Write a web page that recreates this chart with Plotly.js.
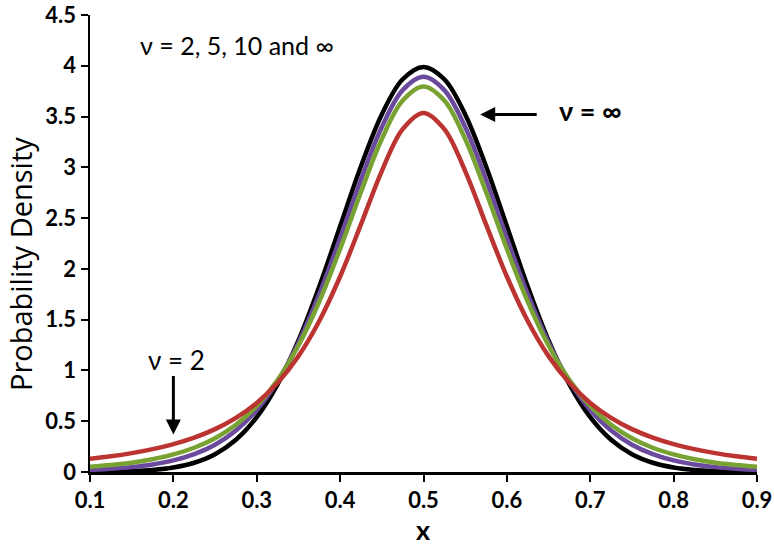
<!DOCTYPE html>
<html>
<head>
<meta charset="utf-8">
<script src="https://cdn.plot.ly/plotly-3.0.1.min.js"></script>
<style>
  html, body { margin: 0; padding: 0; background: #fff; }
  #chart { width: 774px; height: 547px; }
</style>
</head>
<body>
<div id="chart"></div>
<script>
// values, x from 0.1 to 0.9
const xValues = [0.1, 0.125, 0.15, 0.175, 0.2, 0.225, 0.25, 0.275, 0.3, 0.325, 0.35, 0.375, 0.4, 0.425, 0.45, 0.475,
    0.5, 0.525, 0.55, 0.575, 0.6, 0.625, 0.65, 0.675, 0.7, 0.725, 0.75, 0.775, 0.8, 0.825, 0.85, 0.875, 0.9];

const nuInf = [0.001, 0.004, 0.009, 0.020, 0.044, 0.091, 0.175, 0.317, 0.540, 0.863, 1.295, 1.826, 2.420, 3.011, 3.521, 3.867,
    3.989, 3.867, 3.521, 3.011, 2.420, 1.826, 1.295, 0.863, 0.540, 0.317, 0.175, 0.091, 0.044, 0.020, 0.009, 0.004, 0.001];
const nu10 = [0.020, 0.031, 0.048, 0.074, 0.114, 0.176, 0.269, 0.409, 0.611, 0.895, 1.274, 1.751, 2.304, 2.880, 3.397, 3.760,
    3.891, 3.760, 3.397, 2.880, 2.304, 1.751, 1.274, 0.895, 0.611, 0.409, 0.269, 0.176, 0.114, 0.074, 0.048, 0.031, 0.020];
const nu5 = [0.051, 0.069, 0.092, 0.126, 0.173, 0.239, 0.333, 0.466, 0.651, 0.905, 1.245, 1.679, 2.197, 2.757, 3.279, 3.657,
    3.796, 3.657, 3.279, 2.757, 2.197, 1.679, 1.245, 0.905, 0.651, 0.466, 0.333, 0.239, 0.173, 0.126, 0.092, 0.069, 0.051];
const nu2 = [0.131, 0.155, 0.186, 0.225, 0.274, 0.338, 0.422, 0.533, 0.680, 0.878, 1.141, 1.487, 1.925, 2.438, 2.963, 3.376,
    3.536, 3.376, 2.963, 2.438, 1.925, 1.487, 1.141, 0.878, 0.680, 0.533, 0.422, 0.338, 0.274, 0.225, 0.186, 0.155, 0.131];

const seriesNames = ['ν = ∞', 'ν = 10', 'ν = 5', 'ν = 2'];
const seriesColors = ['#000000', '#6b4a9e', '#78a232', '#bc3431'];
const seriesValues = [nuInf, nu10, nu5, nu2];

const traces = seriesValues.map((ys, i) => ({
    x: xValues,
    y: ys,
    type: 'scatter',
    mode: 'lines',
    name: seriesNames[i],
    line: { color: seriesColors[i], width: 4.5, shape: 'spline', smoothing: 1 },
    hoverinfo: 'skip'
}));

const font = 'Lato, "Open Sans", sans-serif';
const wideFont = '"Open Sans", Lato, sans-serif';

const layout = {
    width: 774,
    height: 547,
    showlegend: false,
    paper_bgcolor: '#fff',
    plot_bgcolor: '#fff',
    margin: { t: 15, r: 17, b: 75, l: 90 },
    xaxis: {
        range: [0.1, 0.9],
        dtick: 0.1,
        tick0: 0.1,
        showgrid: false,
        zeroline: false,
        showline: true,
        linecolor: '#000',
        linewidth: 2.5,
        ticks: 'outside',
        ticklen: 7,
        tickwidth: 2,
        tickcolor: '#000',
        tickfont: { family: font, size: 22, color: '#000', weight: 'bold' }
    },
    yaxis: {
        range: [0, 4.5],
        dtick: 0.5,
        showgrid: false,
        zeroline: false,
        showline: true,
        linecolor: '#000',
        linewidth: 2.5,
        ticks: 'outside',
        ticklen: 7,
        tickwidth: 2,
        tickcolor: '#000',
        tickfont: { family: font, size: 22, color: '#000', weight: 'bold' }
    },
    annotations: [
        // axis titles as annotations so they sit where the original puts them
        {
            x: 0, y: 0.455, xref: 'paper', yref: 'paper',
            xanchor: 'center', yanchor: 'middle', xshift: -70, borderpad: 0,
            text: 'Probability Density', textangle: -90, showarrow: false,
            font: { family: wideFont, size: 29, color: '#000' }
        },
        {
            x: 0.5, y: 0, xref: 'paper', yref: 'paper',
            xanchor: 'center', yanchor: 'middle', yshift: -57, borderpad: 0,
            text: '<b>x</b>', showarrow: false,
            font: { family: font, size: 27, color: '#000' }
        },
        {
            x: 0.276, y: 4.2, xref: 'x', yref: 'y',
            text: 'ν = 2, 5, 10 and ∞', showarrow: false,
            font: { family: font, size: 25, color: '#000' }
        },
        {
            x: 0.70, y: 3.56, xref: 'x', yref: 'y',
            text: '<b>ν = ∞</b>', showarrow: false,
            font: { family: font, size: 27, color: '#000' }
        },
        {
            x: 0.568, y: 3.52, xref: 'x', yref: 'y',
            text: '', showarrow: true, ax: 58, ay: 0,
            arrowhead: 2, arrowsize: 1, arrowwidth: 3, arrowcolor: '#000'
        },
        {
            x: 0.204, y: 1.1, xref: 'x', yref: 'y',
            text: 'ν = 2', showarrow: false,
            font: { family: font, size: 26, color: '#000' }
        },
        {
            x: 0.2, y: 0.37, xref: 'x', yref: 'y',
            text: '', showarrow: true, ax: 0, ay: -60,
            arrowhead: 2, arrowsize: 1, arrowwidth: 3, arrowcolor: '#000'
        }
    ]
};

Plotly.newPlot('chart', traces, layout, { displayModeBar: false, staticPlot: true });
</script>
</body>
</html>
